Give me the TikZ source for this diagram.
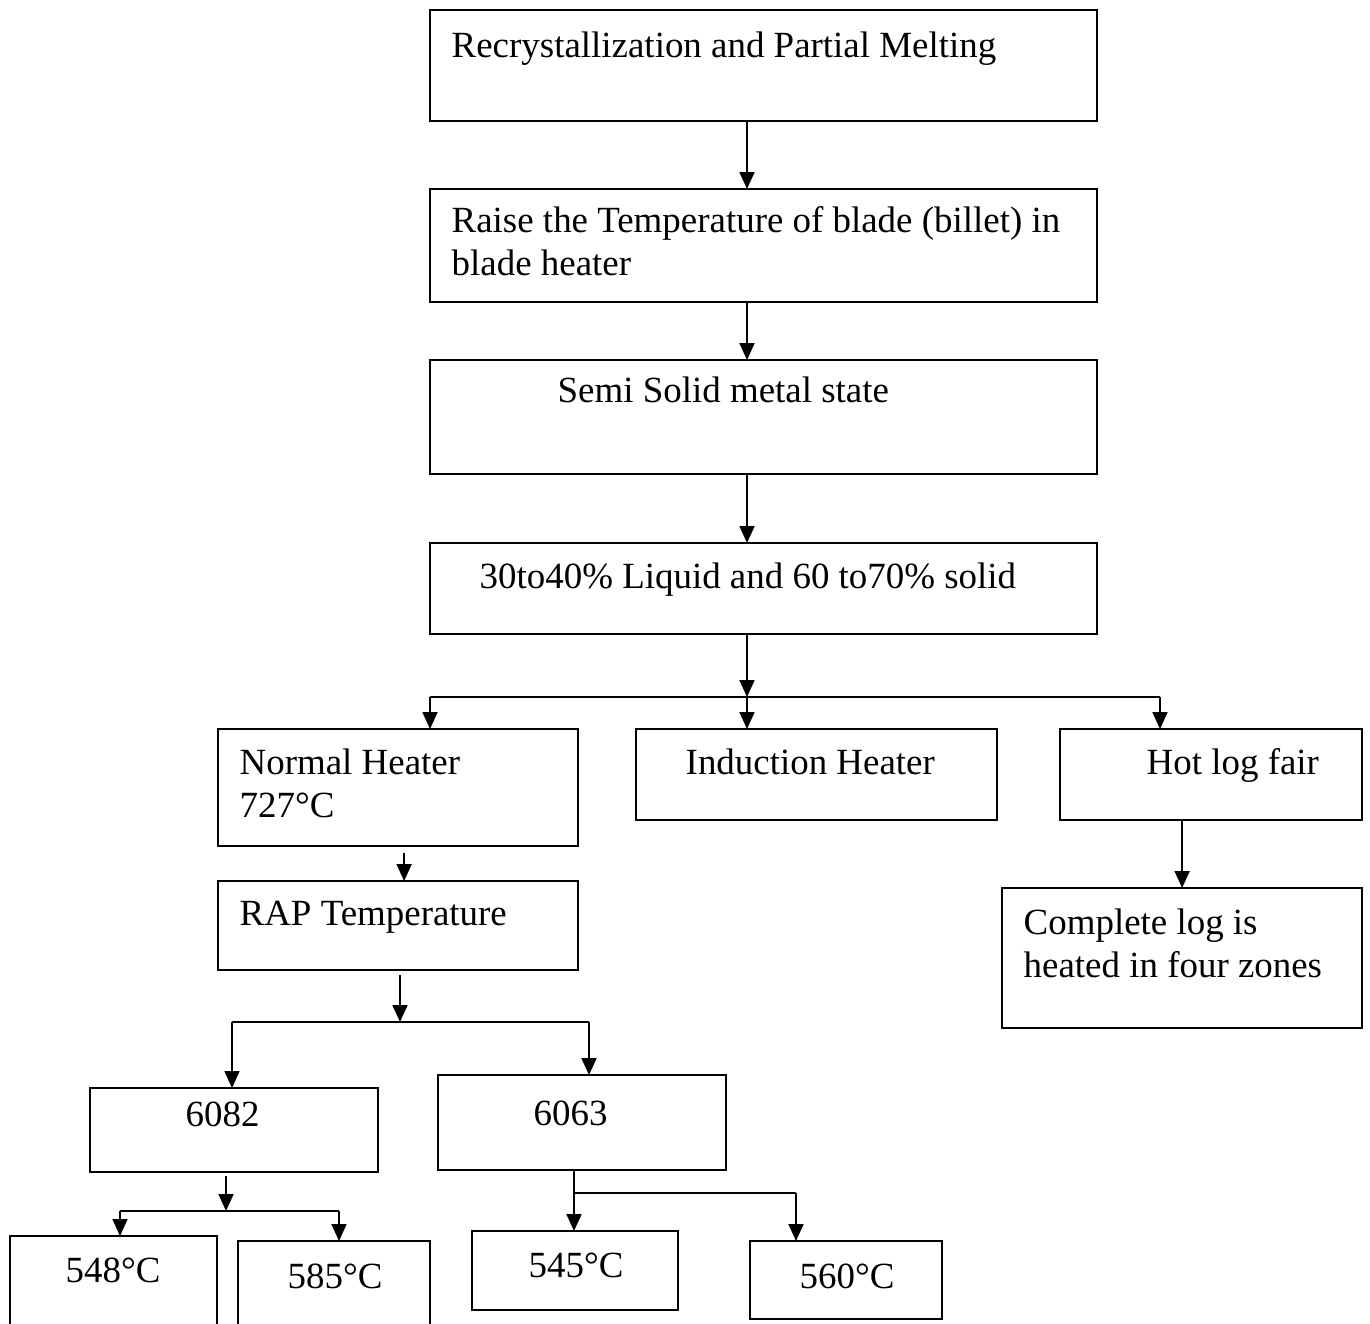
\documentclass[tikz,border=0pt]{standalone}
\usepackage{fontspec}
\setmainfont{Liberation Serif}
\usetikzlibrary{arrows.meta}

\begin{document}
\begin{tikzpicture}[
            x=0.01cm,
            y=-0.01cm,
            box/.style={
                draw,
                line width=0.6pt,
                anchor=north west,
                inner sep=0pt,
                outer sep=0pt
            },
            txt/.style={
                anchor=base west,
                inner sep=0pt,
                align=left,
                font=\fontsize{10.5}{12.2}\selectfont
            },
            arr/.style={
                line width=0.65pt,
                -{Triangle[length=4.8pt,width=4.2pt]}
            },
            bus/.style={
                line width=0.65pt
            }
        ]
            \useasboundingbox (0,0) rectangle (1370,1323);
            \clip (0,0) rectangle (1370,1323);
            % main chain
            \node[box, minimum width=6.67cm, minimum height=1.11cm] (b1) at (430,10) {};
            \node[txt] (t1) at (451,57) {Recrystallization and Partial Melting};
            \node[box, minimum width=6.67cm, minimum height=1.13cm] (b2) at (430,189) {};
            \node[txt] (t2) at (451,275) {Raise the Temperature of blade (billet) in\\blade heater};
            \node[box, minimum width=6.67cm, minimum height=1.14cm] (b3) at (430,360) {};
            \node[txt] (t3) at (557,402) {Semi Solid metal state};
            \node[box, minimum width=6.67cm, minimum height=0.91cm] (b4) at (430,543) {};
            \node[txt] (t4) at (479,588) {30to40\% Liquid and 60 to70\% solid};
            % heaters
            \node[box, minimum width=3.60cm, minimum height=1.17cm] (b5) at (218,729) {};
            \node[txt] (t5) at (239,817) {Normal Heater\\727°C};
            \node[box, minimum width=3.61cm, minimum height=0.91cm] (b6) at (636,729) {};
            \node[txt] (t6) at (685,774) {Induction Heater};
            \node[box, minimum width=3.02cm, minimum height=0.91cm] (b7) at (1060,729) {};
            \node[txt] (t7) at (1146,774) {Hot log fair};
            \node[box, minimum width=3.60cm, minimum height=1.40cm] (b8) at (1002,888) {};
            \node[txt] (t8) at (1023,977) {Complete log is\\heated in four zones};
            \node[box, minimum width=3.60cm, minimum height=0.89cm] (b9) at (218,881) {};
            \node[txt] (t9) at (239,925) {RAP Temperature};
            % alloys
            \node[box, minimum width=2.88cm, minimum height=0.84cm] (b10) at (90,1088) {};
            \node[txt] (t10) at (185,1126) {6082};
            \node[box, minimum width=2.88cm, minimum height=0.95cm] (b11) at (438,1075) {};
            \node[txt] (t11) at (533,1125) {6063};
            \node[box, minimum width=2.07cm, minimum height=1.10cm] (b12) at (10,1236) {};
            \node[txt] (t12) at (65,1282) {548°C};
            \node[box, minimum width=1.92cm, minimum height=1.05cm] (b13) at (238,1241) {};
            \node[txt] (t13) at (287,1288) {585°C};
            \node[box, minimum width=2.06cm, minimum height=0.79cm] (b14) at (472,1231) {};
            \node[txt] (t14) at (528,1277) {545°C};
            \node[box, minimum width=1.92cm, minimum height=0.78cm] (b15) at (750,1241) {};
            \node[txt] (t15) at (799,1288) {560°C};
            % junctions
            \coordinate (j1) at (747,697);
            \coordinate (j1l) at (430,697);
            \coordinate (j1r) at (1160,697);
            \coordinate (j2) at (400,1022);
            \coordinate (j2l) at (232,1022);
            \coordinate (j2r) at (589,1022);
            \coordinate (j3) at (226,1211);
            \coordinate (j3l) at (120,1211);
            \coordinate (j3r) at (339,1211);
            \coordinate (j4) at (574,1193);
            \coordinate (j4r) at (796,1193);
            % connectors
            \draw[arr] (b1.south -| j1) -- (b2.north -| j1);
            \draw[arr] (b2.south -| j1) -- (b3.north -| j1);
            \draw[arr] (b3.south -| j1) -- (b4.north -| j1);
            \draw[arr] (b4.south -| j1) -- (j1);
            \draw[bus] (j1l) -- (j1r);
            \draw[arr] (j1l) -- (j1l |- b5.north);
            \draw[arr] (j1) -- (j1 |- b6.north);
            \draw[arr] (j1r) -- (j1r |- b7.north);
            \draw[arr] (b7.south -| b8.north) -- (b8.north);
            \draw[arr] ([xshift=0.06cm,yshift=-0.07cm]b5.south) -- ([xshift=0.06cm]b9.north);
            \draw[arr] (b9.south -| j2) ++(0,5) -- (j2);
            \draw[bus] (j2l) -- (j2r);
            \draw[arr] (j2l) -- (j2l |- b10.north);
            \draw[arr] (j2r) -- (j2r |- b11.north);
            \draw[arr] (b10.south -| j3) ++(0,4) -- (j3);
            \draw[bus] (j3l) -- (j3r);
            \draw[arr] (j3l) -- (j3l |- b12.north);
            \draw[arr] (j3r) -- (j3r |- b13.north);
            \draw[arr] (b11.south -| j4) -- (b14.north -| j4);
            \draw[bus] (j4) -- (j4r);
            \draw[arr] (j4r) -- (j4r |- b15.north);
        \end{tikzpicture}
\end{document}
